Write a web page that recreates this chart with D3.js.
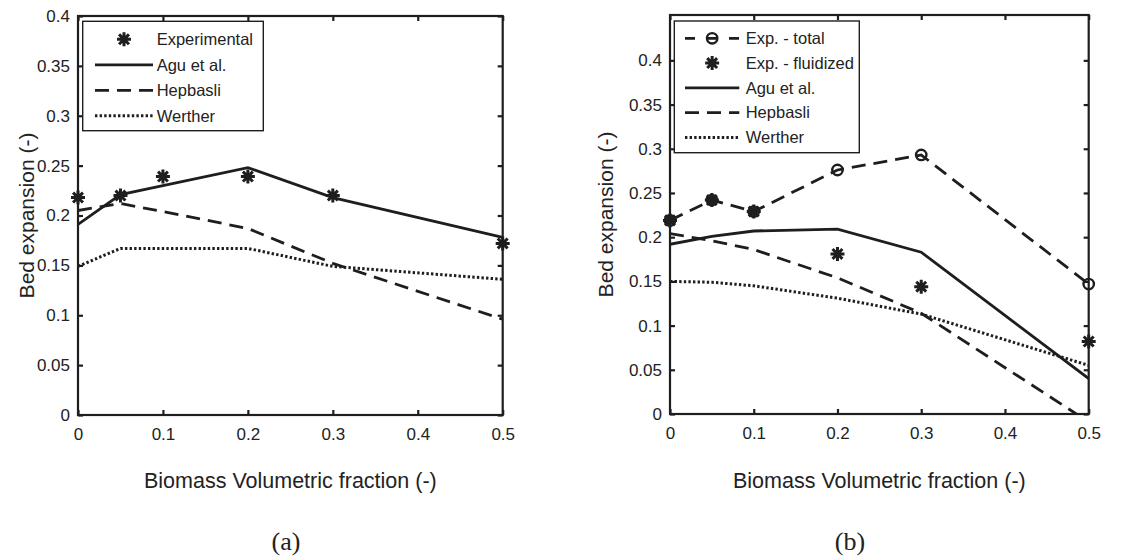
<!DOCTYPE html>
<html><head><meta charset="utf-8">
<script src="https://cdn.jsdelivr.net/npm/d3@7"></script>
<style>body{margin:0;background:#fff}svg{display:block}text{fill:#222}</style>
</head><body>
<svg id="c" width="1148" height="556"></svg>
<script>
const xVals = [0, 0.05, 0.1, 0.2, 0.3, 0.5];
// Panel (a)
const expA = [0.218, 0.220, 0.239, 0.239, 0.220, 0.172];
const aguA = [0.191, 0.221, 0.230, 0.248, 0.218, 0.178];
const hepA = [0.205, 0.212, 0.204, 0.187, 0.152, 0.096];
const werA = [0.149, 0.167, 0.167, 0.167, 0.149, 0.136];
// Panel (b)
const totB = [0.219, 0.242, 0.229, 0.276, 0.293, 0.147];
const fluB = [0.219, 0.242, 0.229, 0.181, 0.144, 0.082];
const aguB = [0.192, 0.201, 0.207, 0.209, 0.183, 0.040];
const hepB = [0.204, 0.196, 0.186, 0.154, 0.114, -0.009];
const werB = [0.150, 0.149, 0.145, 0.131, 0.113, 0.055];

const xTicks = [0, 0.1, 0.2, 0.3, 0.4, 0.5];
const yTicks = [0, 0.05, 0.1, 0.15, 0.2, 0.25, 0.3, 0.35, 0.4];
const legendA = ["Experimental", "Agu et al.", "Hepbasli", "Werther"];
const legendB = ["Exp. - total", "Exp. - fluidized", "Agu et al.", "Hepbasli", "Werther"];
const xLabel = "Biomass Volumetric fraction (-)";
const yLabel = "Bed expansion (-)";

const svg = d3.select("#c");
const INK = "#1e1e1e";
const fmt = v => String(+v.toFixed(2));

function asterisk(g, cx, cy, r) {
  const p = d3.path();
  for (let k = 0; k < 4; k++) {
    const a = k * Math.PI / 4;
    p.moveTo(cx - r * Math.cos(a), cy - r * Math.sin(a));
    p.lineTo(cx + r * Math.cos(a), cy + r * Math.sin(a));
  }
  g.append("path").attr("d", p.toString()).attr("stroke", INK).attr("stroke-width", 3).attr("fill", "none");
}
function circle(g, cx, cy) {
  g.append("circle").attr("cx", cx).attr("cy", cy).attr("r", 5.2).attr("fill", "none").attr("stroke", INK).attr("stroke-width", 2.4);
}
const styles = {
  solid: {dash: null, w: 2.8},
  dashed: {dash: "14,8", w: 2.8},
  dotted: {dash: "2.4,2.2", w: 3}
};

function panel(id, L, R, T, B, yMax, series, legendItems, legBox, caption, capX, yLabX) {
  const x = d3.scaleLinear().domain([0, 0.5]).range([L, R]);
  const y = d3.scaleLinear().domain([0, yMax]).range([B, T]);
  const g = svg.append("g");
  const clipId = "clip" + id;
  svg.append("clipPath").attr("id", clipId).append("rect").attr("x", L).attr("y", T).attr("width", R - L).attr("height", B - T);
  const plot = g.append("g").attr("clip-path", `url(#${clipId})`);
  const line = d3.line().x((d, i) => x(xVals[i])).y(d => y(d));
  series.forEach(s => {
    if (s.style) {
      const st = styles[s.style];
      plot.append("path").attr("d", line(s.data)).attr("fill", "none").attr("stroke", INK)
        .attr("stroke-width", st.w).attr("stroke-dasharray", st.dash).attr("stroke-linejoin", "miter");
    }
  });
  const mk = g.append("g");
  series.forEach(s => {
    if (s.marker) s.data.forEach((d, i) => {
      if (s.marker === "o") circle(mk, x(xVals[i]), y(d));
      else asterisk(mk, x(xVals[i]), y(d), 7);
    });
  });
  // axes (box with inward ticks)
  const ax = g.append("g");
  const tl = 5;
  const tb = d3.axisBottom(x).tickValues(xTicks).tickSizeInner(-tl).tickSizeOuter(0).tickPadding(13).tickFormat(fmt);
  const tt = d3.axisTop(x).tickValues(xTicks).tickSizeInner(-tl).tickSizeOuter(0).tickFormat("");
  const tlft = d3.axisLeft(y).tickValues(yTicks).tickSizeInner(-tl).tickSizeOuter(0).tickPadding(8).tickFormat(fmt);
  const trt = d3.axisRight(y).tickValues(yTicks).tickSizeInner(-tl).tickSizeOuter(0).tickFormat("");
  [[tb, `translate(0,${B})`], [tt, `translate(0,${T})`], [tlft, `translate(${L},0)`], [trt, `translate(${R},0)`]].forEach(([a, tr]) => {
    const gg = ax.append("g").attr("transform", tr).call(a);
    gg.selectAll("line").attr("stroke", INK).attr("stroke-width", 2.2);
    gg.select(".domain").remove();
    gg.selectAll("text").attr("font-family", "Liberation Sans, Arial, sans-serif").attr("font-size", 17).attr("fill", INK);
  });
  ax.append("rect").attr("x", L).attr("y", T).attr("width", R - L).attr("height", B - T)
    .attr("fill", "none").attr("stroke", INK).attr("stroke-width", 2.2);

  // legend
  const lg = g.append("g");
  lg.append("rect").attr("x", legBox.x).attr("y", legBox.y).attr("width", legBox.w).attr("height", legBox.h)
    .attr("fill", "#fff").attr("stroke", INK).attr("stroke-width", 1.4);
  series.forEach((s, i) => {
    const yy = legBox.row0 + i * legBox.dy;
    if (s.style) {
      const st = styles[s.style];
      lg.append("line").attr("x1", legBox.lx0).attr("x2", legBox.lx1).attr("y1", yy).attr("y2", yy)
        .attr("stroke", INK).attr("stroke-width", st.w)
        .attr("stroke-dasharray", s.style === "dashed" ? (s.marker ? "10,11,12,11,10" : "14,8") : st.dash);
    }
    const mx = (legBox.lx0 + legBox.lx1) / 2;
    if (s.marker === "o") circle(lg, mx, yy);
    else if (s.marker) asterisk(lg, mx, yy, 7);
    lg.append("text").attr("x", legBox.tx).attr("y", yy).attr("dy", "0.35em")
      .attr("font-family", "Liberation Sans, Arial, sans-serif").attr("font-size", 16.5).text(legendItems[i]);
  });

  // labels
  g.append("text").attr("x", (L + R) / 2).attr("y", 488).attr("text-anchor", "middle")
    .attr("font-family", "Liberation Sans, Arial, sans-serif").attr("font-size", 21.5).text(xLabel);
  g.append("text").attr("transform", `translate(${yLabX},${(T + B) / 2}) rotate(-90)`).attr("text-anchor", "middle").attr("dy", "0.35em")
    .attr("font-family", "Liberation Sans, Arial, sans-serif").attr("font-size", 21).text(yLabel);
  g.append("text").attr("x", capX).attr("y", 550).attr("text-anchor", "middle")
    .attr("font-family", "Liberation Serif, Times New Roman, serif").attr("font-size", 26).text(caption);
}

panel("a", 78, 502.7, 16, 415, 0.4,
  [{data: expA, marker: "*"}, {data: aguA, style: "solid"}, {data: hepA, style: "dashed"}, {data: werA, style: "dotted"}],
  legendA, {x: 82.7, y: 21.3, w: 180.6, h: 109.4, row0: 39.3, dy: 25.5, lx0: 95, lx1: 153, tx: 156.7}, "(a)", 286, 27);

panel("b", 670, 1088.7, 15, 414, 0.4513,
  [{data: totB, marker: "o", style: "dashed"}, {data: fluB, marker: "*"}, {data: aguB, style: "solid"}, {data: hepB, style: "dashed"}, {data: werB, style: "dotted"}],
  legendB, {x: 674.3, y: 21, w: 185, h: 131.7, row0: 38.3, dy: 24.8, lx0: 685, lx1: 739.3, tx: 745.7}, "(b)", 850, 606);
</script>
</body></html>
